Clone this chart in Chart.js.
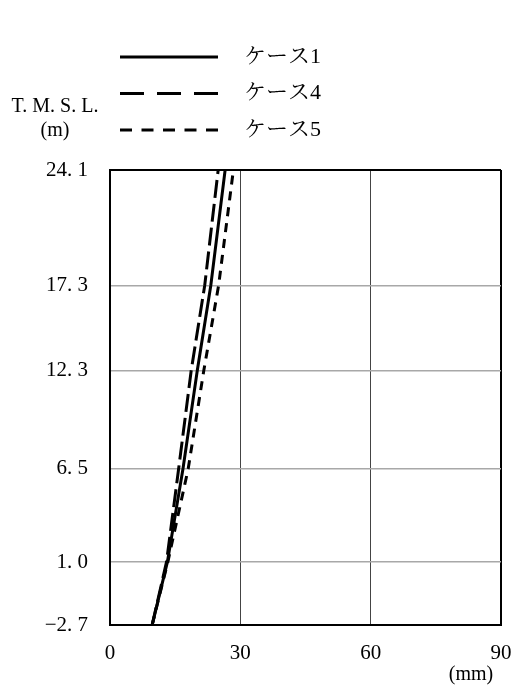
<!DOCTYPE html>
<html>
<head>
<meta charset="utf-8">
<script src="https://cdn.jsdelivr.net/npm/chart.js@4"></script>
<style>
  body { margin: 0; background: #fff; }
</style>
</head>
<body>
<canvas id="chart" width="516" height="690"></canvas>
<script>
// elevation (T.M.S.L., m) and displacement (mm)
const levels = [-2.7, 1.0, 6.5, 12.3, 17.3, 24.1]
const case1 = [9.7, 13.2, 16.8, 20.1, 23.2, 26.5]
const case4 = [9.7, 13.0, 15.8, 18.7, 21.8, 24.9]
const case5 = [9.7, 13.3, 18.0, 21.6, 25.0, 28.4]
const xTicks = [0, 30, 60, 90]
const seriesNames = ['ケース1', 'ケース4', 'ケース5']
const yTitle = ['T. M. S. L.', '(m)']
const xUnit = '(mm)'

const FONT = '"Liberation Serif", "Noto Serif CJK JP", "Noto Sans CJK JP", serif'

const toPoints = (vals) => vals.map((v, i) => ({ x: v, y: levels[i] }))

// legend in a column + axis captions
const sideText = {
  id: 'sideText',
  afterDraw(chart) {
    const c = chart.ctx
    c.save()
    c.fillStyle = '#000'
    c.textBaseline = 'middle'
    const legendDash = [[], [24, 13], [12, 9.5]]
    chart.data.datasets.forEach((ds, i) => {
      const y = 57 + i * 36.5
      c.beginPath()
      c.setLineDash(legendDash[i])
      c.lineWidth = 3
      c.strokeStyle = '#000'
      c.moveTo(120, y)
      c.lineTo(218, y)
      c.stroke()
      c.setLineDash([])
      c.textAlign = 'left'
      c.font = '22px ' + FONT
      c.fillText(ds.label, 244, y)
    })
    c.font = '20px ' + FONT
    c.textAlign = 'center'
    c.fillText(yTitle[0], 55, 107)
    c.fillText(yTitle[1], 55, 131)
    c.fillText(xUnit, 471, 675)
    c.restore()
  }
}

const isEdge = (v, lo, hi) => Math.abs(v - lo) < 1e-6 || Math.abs(v - hi) < 1e-6

new Chart(document.getElementById('chart'), {
  type: 'line',
  data: {
    datasets: [{
      label: seriesNames[0],
      data: toPoints(case1),
      borderColor: '#000',
      borderWidth: 3
    }, {
      label: seriesNames[1],
      data: toPoints(case4),
      borderColor: '#000',
      borderWidth: 3,
      borderDash: [18, 6]
    }, {
      label: seriesNames[2],
      data: toPoints(case5),
      borderColor: '#000',
      borderWidth: 3,
      borderDash: [9, 7]
    }]
  },
  options: {
    responsive: false,
    animation: false,
    elements: { point: { radius: 0 }, line: { tension: 0 } },
    layout: { padding: { top: 170, right: 15, left: 0, bottom: 0 } },
    plugins: { legend: { display: false }, tooltip: { enabled: false } },
    scales: {
      x: {
        type: 'linear',
        min: 0,
        max: 90,
        afterBuildTicks: (s) => { s.ticks = xTicks.map(v => ({ value: v })) },
        afterFit: (s) => { s.height = 65; s.paddingLeft = 0; s.paddingRight = 0 },
        grid: {
          drawTicks: false,
          color: (ctx) => isEdge(ctx.tick.value, 0, 90) ? '#000' : '#444',
          lineWidth: (ctx) => isEdge(ctx.tick.value, 0, 90) ? 2 : 1
        },
        border: { color: '#000', width: 2 },
        ticks: { color: '#000', padding: 16, font: { family: FONT, size: 21 } }
      },
      y: {
        type: 'linear',
        min: levels[0],
        max: levels[levels.length - 1],
        afterBuildTicks: (s) => { s.ticks = levels.map(v => ({ value: v })) },
        afterFit: (s) => { s.width = 110; s.paddingTop = 0; s.paddingBottom = 0 },
        grid: {
          drawTicks: false,
          color: (ctx) => isEdge(ctx.tick.value, levels[0], levels[levels.length - 1]) ? '#000' : '#a8a8a8',
          lineWidth: (ctx) => isEdge(ctx.tick.value, levels[0], levels[levels.length - 1]) ? 2 : 1.5
        },
        border: { color: '#000', width: 2 },
        ticks: {
          color: '#000',
          padding: 22,
          font: { family: FONT, size: 21 },
          callback: (v) => v.toFixed(1).replace('.', '. ').replace('-', '−')
        }
      }
    }
  },
  plugins: [sideText]
})
</script>
</body>
</html>
